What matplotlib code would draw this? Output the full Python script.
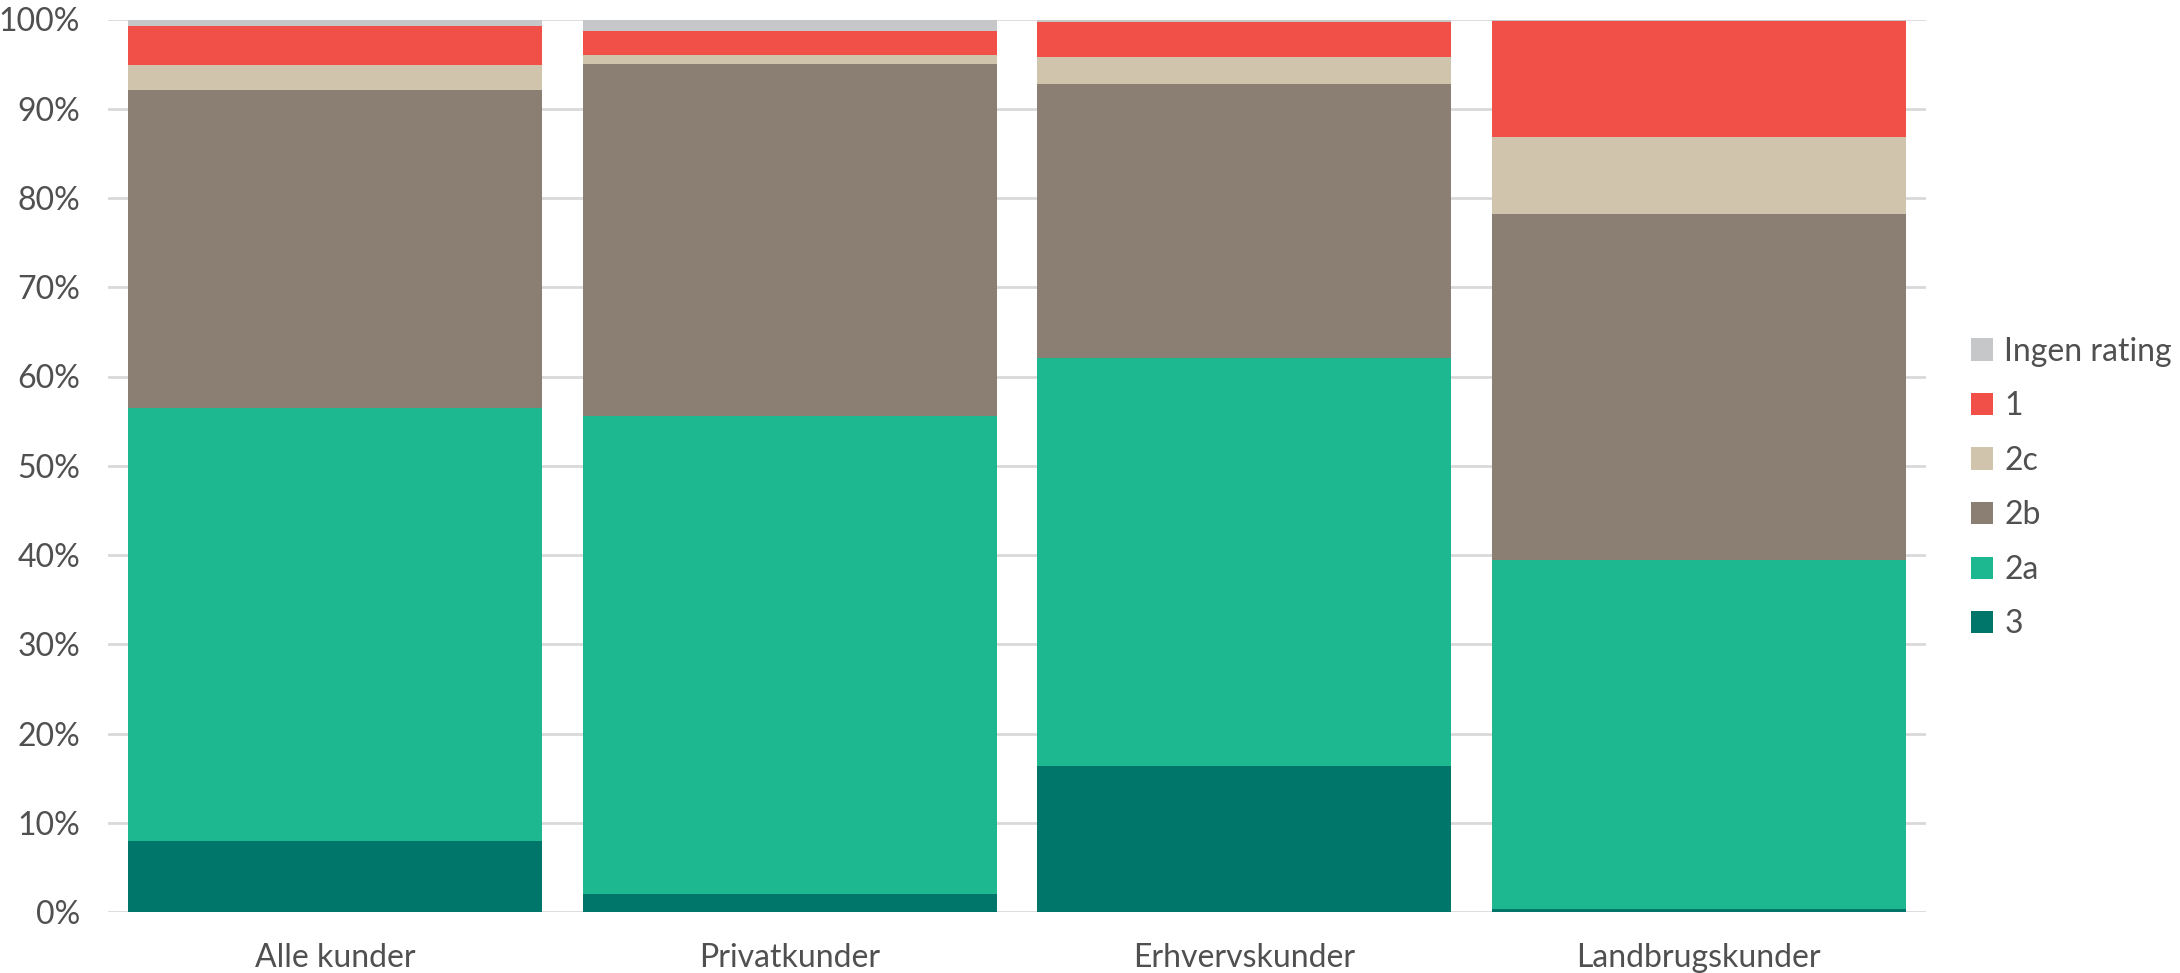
import matplotlib
matplotlib.use("Agg")
import matplotlib.pyplot as plt
import numpy as np

plt.rcParams['font.family'] = ['Lato', 'DejaVu Sans']

# Data (percent of customers per rating class)
categories = ["Alle kunder", "Privatkunder", "Erhvervskunder", "Landbrugskunder"]
series_names = ["3", "2a", "2b", "2c", "1", "Ingen rating"]
r3 = [7.9, 2.0, 16.4, 0.3]
r2a = [48.6, 53.6, 45.7, 39.1]
r2b = [35.6, 39.4, 30.7, 38.8]
r2c = [2.8, 1.0, 3.0, 8.6]
r1 = [4.4, 2.7, 3.9, 13.0]
ingen = [0.7, 1.2, 0.3, 0.2]

colors = ["#00756A", "#1DB88F", "#8B7F73", "#D0C4AC", "#F05047", "#C6C7C8"]
values = [r3, r2a, r2b, r2c, r1, ingen]
text_col = "#505050"

fig = plt.figure(figsize=(21.8, 9.73), dpi=100)
ax = fig.add_axes([108 / 2180, 1 - 912 / 973, (1926 - 108) / 2180, (912 - 19.5) / 973])

x = np.arange(len(categories))
bottom = np.zeros(len(categories))
handles = []
for name, vals, col in zip(series_names, values, colors):
    b = ax.bar(x, vals, 0.91, bottom=bottom, color=col, label=name, zorder=3)
    handles.append(b)
    bottom += np.array(vals)

ax.set_xlim(-0.5, 3.5)
ax.set_ylim(0, 100)
ax.set_yticks(np.arange(0, 101, 10))
ax.set_yticklabels(["%d%%" % v for v in range(0, 101, 10)])
ax.set_xticks(x)
ax.set_xticklabels(categories)
ax.yaxis.grid(True, color="#D9D9D9", linewidth=2, zorder=0)
ax.set_axisbelow(True)
for s in ax.spines.values():
    s.set_visible(False)
ax.tick_params(axis="both", length=0, labelsize=23, labelcolor=text_col)
ax.tick_params(axis="y", pad=20)
ax.tick_params(axis="x", pad=22)

leg = fig.legend(handles[::-1], series_names[::-1], loc="center left",
                 bbox_to_anchor=(1942 / 2180, 1 - 488 / 973), frameon=False,
                 fontsize=23, handlelength=0.7, handleheight=0.7,
                 handletextpad=0.35, labelspacing=0.77)
for t in leg.get_texts():
    t.set_color(text_col)

fig.savefig("out.png", dpi=100)
